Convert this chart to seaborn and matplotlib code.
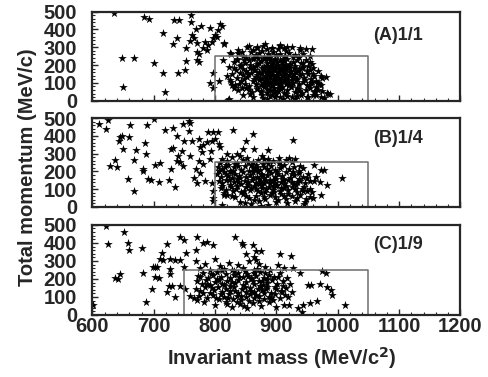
import numpy as np
import pandas as pd
import matplotlib
matplotlib.use('Agg')
from matplotlib import pyplot as plt
from matplotlib.ticker import MultipleLocator
import seaborn as sns

# (invariant mass, total momentum) pairs
points_a = [
    (635, 492), (684, 470), (692, 460), (733, 451), (741, 455), (761, 479), (760, 441),
    (715, 379), (768, 403), (777, 420), (792, 407), (808, 432), (811, 422), (738, 350),
    (731, 318), (762, 369), (765, 350), (759, 337), (771, 322), (780, 294), (786, 284),
    (789, 312), (797, 350), (800, 369), (803, 360), (795, 331), (753, 297), (770, 275),
    (773, 265), (771, 227), (774, 218), (648, 242), (668, 237), (701, 214), (753, 222),
    (751, 174), (715, 157), (739, 157), (796, 157), (791, 100), (797, 70), (650, 76),
    (718, 51), (807, 108), (815, 316), (813, 231), (821, 4), (805, 395), (783, 330),
    (814, 325), (824, 268), (838, 283), (844, 272), (856, 309), (868, 302), (882, 319),
    (893, 296), (906, 306), (918, 302), (939, 296), (958, 290), (954, 220), (955, 173),
    (958, 107), (972, 88), (980, 135), (984, 37), (972, 18), (836, 230), (830, 183),
    (825, 116), (827, 88), (844, 69), (857, 40), (874, 50), (898, 18), (934, 25),
    (950, 18), (822, 12), (885, 12),
    (852, 300), (868, 296), (878, 305), (884, 290), (893, 298), (902, 288), (912, 294),
    (925, 300), (938, 286), (948, 292), (862, 284), (905, 310),
    (826, 262), (838, 270), (845, 252), (858, 275), (866, 258), (872, 268), (880, 248),
    (887, 262), (895, 272), (899, 255), (906, 265), (914, 250), (921, 270), (930, 258),
    (936, 244), (944, 262), (955, 250), (850, 242), (877, 278), (890, 244), (916, 278),
    (830, 218), (836, 232), (848, 210), (855, 226), (862, 236), (868, 206), (874, 222),
    (879, 232), (884, 212), (889, 226), (893, 204), (897, 236), (901, 218), (905, 228),
    (909, 210), (913, 222), (918, 234), (922, 204), (927, 220), (933, 230), (940, 212),
    (948, 226), (958, 208), (843, 200), (870, 240), (886, 238), (911, 202),
    (822, 188), (834, 172), (841, 194), (850, 166), (857, 184), (863, 174), (867, 196),
    (872, 162), (876, 186), (880, 170), (883, 194), (887, 178), (890, 164), (893, 188),
    (896, 172), (899, 196), (902, 160), (904, 182), (907, 170), (910, 190), (913, 164),
    (916, 178), (920, 194), (924, 168), (928, 184), (932, 160), (937, 176), (943, 190),
    (950, 168), (960, 182), (968, 164), (846, 178), (885, 160), (898, 180), (915, 198),
    (820, 138), (828, 150), (836, 126), (845, 146), (852, 132), (859, 154), (864, 122),
    (869, 142), (873, 130), (877, 156), (881, 138), (884, 124), (887, 150), (890, 134),
    (893, 158), (896, 122), (899, 144), (902, 130), (905, 152), (908, 126), (911, 140),
    (914, 156), (918, 128), (921, 146), (925, 134), (929, 152), (934, 122), (939, 142),
    (945, 130), (952, 150), (962, 136), (975, 126), (840, 158), (866, 134), (892, 146),
    (917, 140),
    (826, 104), (833, 90), (842, 112), (849, 96), (856, 84), (862, 108), (867, 94),
    (871, 116), (875, 86), (879, 102), (883, 112), (886, 90), (889, 106), (892, 82),
    (895, 118), (898, 98), (901, 110), (904, 88), (908, 104), (912, 116), (915, 92),
    (919, 108), (923, 84), (927, 100), (932, 114), (937, 92), (943, 106), (949, 86),
    (956, 100), (964, 112), (970, 94), (880, 94), (906, 96),
    (838, 62), (851, 72), (860, 48), (868, 66), (874, 56), (880, 76), (885, 44),
    (890, 62), (896, 72), (902, 52), (907, 66), (913, 44), (918, 60), (924, 74),
    (930, 50), (936, 64), (942, 42), (948, 58), (955, 70), (962, 46), (968, 60),
    (975, 52), (982, 44), (897, 56),
    (846, 30), (862, 22), (878, 14), (892, 34), (905, 20), (918, 28), (930, 12),
    (940, 34), (952, 22), (965, 30), (978, 16), (988, 38), (910, 8),
    (863, 241), (871, 213), (879, 187), (887, 241), (894, 219), (903, 199), (911, 233),
    (919, 181), (927, 243), (871, 157), (883, 133), (889, 197), (897, 111), (906, 171),
    (914, 117), (922, 159), (931, 197), (869, 79), (877, 121), (885, 67), (893, 93),
    (901, 141), (909, 77), (917, 99), (925, 117), (933, 71), (941, 151), (947, 117),
    (953, 81), (959, 149), (965, 77), (941, 181), (877, 33), (889, 27), (899, 39),
    (915, 37), (925, 23), (937, 55), (959, 33), (967, 101), (973, 139), (861, 191),
    (853, 151), (847, 119), (839, 93), (831, 69), (855, 61), (857, 203), (847, 229),
    (865, 173), (881, 101), (895, 53), (903, 71), (921, 89), (929, 131), (935, 167),
    (943, 209), (951, 197), (957, 121), (963, 57),
]

points_b = [
    (611, 467), (626, 490), (622, 439), (662, 458), (689, 458), (701, 496), (718, 433),
    (731, 445), (747, 467), (757, 482), (759, 471), (757, 426), (645, 392), (648, 401),
    (644, 373), (660, 395), (738, 401), (750, 369), (762, 373), (773, 382), (788, 420),
    (797, 420), (805, 420), (829, 433), (861, 410), (850, 373), (927, 376), (650, 325),
    (671, 321), (685, 357), (687, 297), (636, 265), (667, 263), (628, 231), (640, 225),
    (683, 212), (683, 202), (702, 236), (710, 249), (728, 325), (732, 329), (739, 287),
    (746, 316), (738, 259), (743, 255), (748, 231), (728, 212), (658, 160), (691, 155),
    (696, 151), (709, 142), (724, 151), (735, 111), (668, 88), (765, 164), (768, 212),
    (773, 259), (759, 287), (775, 339), (781, 350), (787, 363), (795, 373), (800, 382),
    (806, 354), (808, 335), (778, 310), (793, 316), (791, 268), (781, 240), (776, 193),
    (784, 145), (770, 136), (795, 136), (796, 92), (796, 51), (796, 32), (811, 9),
    (815, 70), (827, 60), (849, 22), (874, 3), (1007, 164), (961, 236), (973, 205),
    (977, 206), (964, 168), (971, 141), (983, 121), (972, 66), (960, 51), (946, 28),
    (934, 51), (876, 287), (887, 320), (904, 278), (920, 278), (931, 268), (863, 325),
    (846, 325), (836, 297), (819, 297), (879, 268),
    (812, 270), (820, 258), (828, 282), (836, 248), (845, 266), (852, 276), (861, 252),
    (870, 262), (878, 244), (886, 270), (895, 256), (904, 248), (915, 262), (925, 250),
    (808, 246), (840, 288),
    (805, 226), (812, 212), (818, 236), (824, 204), (830, 222), (837, 232), (843, 210),
    (849, 228), (855, 202), (861, 218), (867, 234), (873, 208), (879, 224), (885, 214),
    (891, 230), (898, 206), (905, 220), (912, 236), (920, 212), (928, 226), (936, 204),
    (944, 218), (816, 224), (858, 238), (888, 202),
    (803, 186), (809, 170), (815, 194), (821, 176), (827, 162), (833, 188), (839, 172),
    (845, 196), (851, 166), (857, 182), (862, 194), (868, 170), (874, 186), (880, 162),
    (885, 178), (891, 192), (897, 168), (903, 184), (909, 172), (916, 196), (922, 164),
    (929, 180), (936, 190), (944, 170), (952, 184), (826, 198), (870, 200), (900, 160),
    (806, 146), (812, 132), (818, 152), (824, 124), (830, 140), (836, 156), (842, 128),
    (848, 144), (854, 122), (860, 150), (866, 136), (871, 158), (877, 126), (883, 146),
    (889, 132), (895, 154), (901, 122), (907, 142), (913, 130), (919, 152), (925, 138),
    (932, 124), (939, 148), (947, 132), (955, 144), (838, 138), (880, 136), (910, 158),
    (810, 108), (818, 94), (826, 114), (834, 100), (842, 86), (850, 110), (857, 96),
    (864, 118), (870, 90), (876, 104), (882, 84), (888, 112), (894, 98), (900, 116),
    (906, 88), (912, 104), (919, 94), (926, 112), (933, 86), (941, 100), (950, 92),
    (958, 84), (866, 100), (896, 84),
    (820, 66), (833, 54), (845, 74), (856, 48), (866, 62), (874, 78), (882, 46),
    (890, 66), (898, 54), (907, 72), (916, 44), (925, 60), (938, 70), (948, 42),
    (955, 56),
    (840, 30), (858, 18), (872, 34), (886, 12), (900, 26), (918, 20), (930, 36),
    (945, 14),
    (817, 183), (823, 149), (829, 201), (835, 117), (841, 163), (847, 87), (853, 141),
    (859, 109), (865, 207), (871, 129), (877, 177), (883, 99), (889, 151), (895, 119),
    (901, 197), (907, 109), (913, 149), (919, 73), (925, 183), (931, 101), (937, 157),
    (943, 89), (949, 163), (821, 237), (833, 241), (853, 251), (869, 227), (887, 247),
    (907, 229), (927, 197), (939, 233), (829, 87), (851, 63), (863, 37), (879, 57),
    (893, 79), (903, 41), (913, 63), (929, 127), (945, 111), (955, 103), (961, 147),
    (811, 117), (815, 79), (806, 201), (862, 161), (874, 143), (898, 137), (916, 117),
    (934, 143),
]

points_c = [
    (622, 496), (626, 392), (652, 460), (658, 398), (659, 360), (680, 373), (601, 57),
    (637, 208), (641, 199), (645, 227), (683, 231), (687, 72), (697, 142), (698, 265),
    (702, 265), (706, 265), (702, 212), (709, 208), (713, 345), (710, 312), (715, 303),
    (722, 394), (726, 312), (727, 255), (726, 227), (724, 161), (729, 161), (722, 127),
    (735, 303), (742, 430), (750, 416), (743, 303), (750, 269), (742, 161), (735, 98),
    (753, 345), (768, 360), (771, 435), (780, 401), (787, 407), (797, 388), (832, 432),
    (844, 401), (845, 388), (862, 388), (866, 356), (874, 356), (850, 341), (863, 322),
    (866, 307), (905, 337), (924, 327), (927, 261), (939, 231), (975, 242), (980, 231),
    (952, 165), (957, 165), (971, 174), (983, 157), (989, 138), (991, 113), (966, 79),
    (955, 66), (943, 53), (942, 19), (1012, 53), (912, 57), (751, 142), (759, 104),
    (765, 95), (770, 85),
    (768, 300), (776, 262), (784, 282), (792, 248), (800, 310), (808, 270), (815, 256),
    (822, 290), (830, 244), (838, 276), (846, 262), (855, 300), (864, 250), (872, 284),
    (882, 266), (890, 248), (902, 276), (913, 258),
    (772, 218), (780, 232), (788, 206), (796, 224), (803, 238), (810, 212), (817, 226),
    (824, 204), (831, 220), (838, 234), (845, 210), (852, 228), (859, 204), (866, 218),
    (873, 236), (880, 208), (888, 224), (896, 212), (905, 232), (918, 206),
    (770, 186), (778, 172), (785, 194), (792, 166), (799, 182), (806, 196), (812, 170),
    (819, 186), (825, 162), (832, 178), (838, 194), (845, 168), (851, 184), (858, 198),
    (864, 172), (871, 188), (878, 164), (885, 180), (893, 196), (901, 170), (910, 186),
    (922, 174),
    (768, 146), (776, 132), (784, 156), (791, 124), (798, 140), (805, 154), (812, 128),
    (818, 146), (825, 134), (831, 158), (838, 122), (844, 142), (851, 130), (857, 152),
    (864, 126), (870, 144), (877, 136), (884, 156), (891, 124), (899, 142), (907, 132),
    (916, 150), (925, 128),
    (774, 104), (786, 92), (797, 112), (806, 86), (814, 100), (822, 116), (829, 90),
    (836, 106), (843, 84), (850, 98), (857, 114), (864, 92), (872, 108), (880, 86),
    (888, 102), (897, 118), (905, 94), (914, 110),
    (782, 70), (800, 56), (818, 72), (828, 46), (840, 62), (852, 38), (862, 66),
    (875, 50), (888, 72), (900, 44), (920, 58), (935, 40),
    (787, 173), (795, 147), (803, 199), (809, 117), (815, 167), (821, 93), (827, 183),
    (833, 131), (839, 211), (843, 107), (849, 157), (855, 77), (861, 187), (867, 111),
    (873, 159), (879, 123), (885, 201), (891, 97), (897, 153), (903, 209), (909, 127),
    (793, 229), (811, 249), (827, 251), (849, 243), (869, 255), (881, 233), (819, 61),
    (835, 71), (847, 51), (859, 131), (871, 75), (883, 143), (895, 81), (911, 163),
    (919, 99), (801, 97), (775, 213), (781, 121), (853, 217), (863, 233), (877, 191),
]

panel_labels = ['(A)1/1', '(B)1/4', '(C)1/9']
box_left = [800, 800, 750]
box_right = 1050
box_top = 250
label_ypos = [0.73, 0.77, 0.78]

sns.set_style('ticks')
plt.rcParams['font.family'] = ['Liberation Sans', 'DejaVu Sans']
plt.rcParams['font.weight'] = 'bold'
plt.rcParams['font.size'] = 14.5
plt.rcParams['axes.linewidth'] = 1.6
plt.rcParams['xtick.direction'] = 'in'
plt.rcParams['ytick.direction'] = 'in'

fig = plt.figure(figsize=(4.88, 3.77), dpi=100)
positions = [
    [0.1895, 0.733, 0.754, 0.236],
    [0.1895, 0.451, 0.754, 0.236],
    [0.1895, 0.1645, 0.754, 0.239],
]

for i, pts in enumerate([points_a, points_b, points_c]):
    ax = fig.add_axes(positions[i])
    df = pd.DataFrame(pts, columns=['mass', 'momentum'])
    sns.scatterplot(
        data=df, x='mass', y='momentum', marker='*', s=42,
        color='black', edgecolor='black', linewidth=0, ax=ax
    )
    ax.plot(
        [box_left[i], box_left[i], box_right, box_right],
        [0, box_top, box_top, 0], color='#6e6e6e', lw=1.1
    )
    ax.set_xlim(600, 1200)
    ax.set_ylim(0, 500)
    ax.xaxis.set_major_locator(MultipleLocator(100))
    ax.xaxis.set_minor_locator(MultipleLocator(20))
    ax.yaxis.set_major_locator(MultipleLocator(100))
    ax.yaxis.set_minor_locator(MultipleLocator(20))
    ax.tick_params(which='major', length=4, width=1, pad=1.5)
    ax.tick_params(which='minor', length=2, width=0.8)
    ax.tick_params(axis='y', which='major', pad=11)
    ax.set_xlabel('')
    ax.set_ylabel('')
    if i < 2:
        ax.set_xticklabels([])
    ax.text(
        1058, label_ypos[i] * 500, panel_labels[i],
        fontsize=13, fontweight='bold', va='center', ha='left'
    )

fig.text(0.057, 0.557, 'Total momentum (MeV/c)', rotation=90,
         ha='center', va='center', fontsize=14.5, fontweight='bold')
fig.text(0.578, 0.05, 'Invariant mass (MeV/c$^{\\mathbf{2}}$)',
         ha='center', va='center', fontsize=14.5, fontweight='bold')

plt.savefig('out.png', dpi=100)
plt.close()
